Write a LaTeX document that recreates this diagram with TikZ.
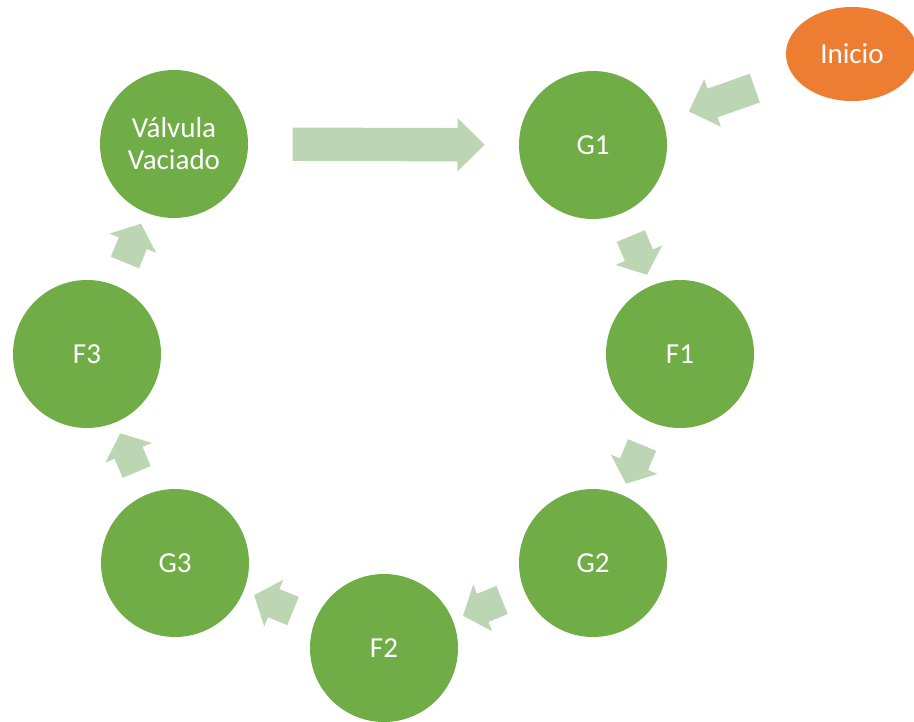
\documentclass[tikz,border=0pt]{standalone}
\usepackage{fontspec}
\setmainfont{Carlito}
\usetikzlibrary{shapes.geometric,shapes.arrows}
\definecolor{stepgreen}{HTML}{70AD47}
\definecolor{startorange}{HTML}{ED7D31}
\definecolor{flowgreen}{HTML}{BCD5B3}
\begin{document}
\begin{tikzpicture}[x=1pt,y=-1pt,
  stage/.style={circle, fill=stepgreen, minimum size=148pt, inner sep=0pt,
    text=white, font=\fontsize{29}{32}\selectfont, align=center},
  start/.style={ellipse, fill=startorange, minimum width=132pt, minimum height=94pt,
    inner sep=0pt, text=white, font=\fontsize{29}{32}\selectfont},
  flow/.style={single arrow, fill=flowgreen, draw=none, inner xsep=0pt,
    inner ysep=15pt, single arrow head extend=10pt, single arrow tip angle=100,
    minimum height=42pt, pos=0.5, sloped, allow upside down, anchor=center},
]
\useasboundingbox (0,0) rectangle (914,722);

% process stages
\node[stage] (V)  at (174,144) {Válvula\\Vaciado};
\node[stage] (G1) at (593,145) {G1};
\node[stage] (F1) at (680,354) {F1};
\node[stage] (G2) at (593,563) {G2};
\node[stage] (F2) at (384,648) {F2};
\node[stage] (G3) at (175,563) {G3};
\node[stage] (F3) at (87,354)  {F3};
\node[start] (S)  at (852,54)  {Inicio};

% block arrows between stages
\path (S.center) -- (G1.center)
  node[flow, minimum height=70pt, single arrow tip angle=90, pos=0.475] (aS) {};
\path (G1.center) -- (F1.center) node[flow] (a1) {};
\path (F1.center) -- (G2.center) node[flow] (a2) {};
\path (G2.center) -- (F2.center) node[flow] (a3) {};
\path (F2.center) -- (G3.center) node[flow] (a4) {};
\path (G3.center) -- (F3.center) node[flow] (a5) {};
\path (F3.center) -- (V.center)  node[flow] (a6) {};
\path (V.center) -- (G1.center)
  node[flow, minimum height=192pt, inner ysep=16.5pt, single arrow tip angle=89,
       pos=0.492] (aV) {};
\end{tikzpicture}
\end{document}
